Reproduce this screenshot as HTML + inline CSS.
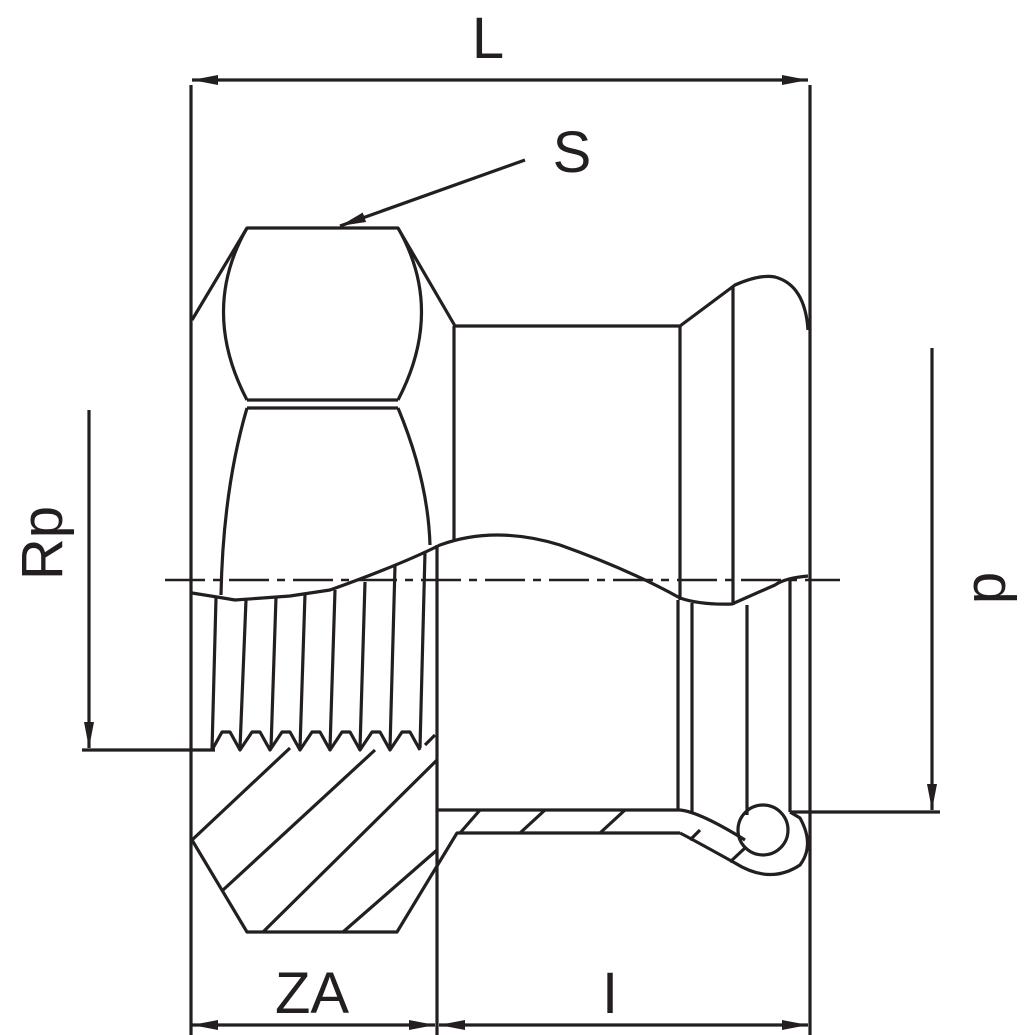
<!DOCTYPE html>
<html><head><style>html,body{margin:0;padding:0;background:#fff}svg{display:block}</style></head>
<body>
<svg width="1024" height="1035" viewBox="0 0 1024 1035" xmlns="http://www.w3.org/2000/svg">
<defs>
<marker id="a" viewBox="0 0 26 10" refX="26" refY="5" markerWidth="26" markerHeight="10" markerUnits="userSpaceOnUse" orient="auto-start-reverse"><path d="M0,0 L26,5 L0,10z" fill="#231f20"/></marker>
</defs>
<g fill="none" stroke="#231f20" stroke-width="3.2" stroke-linejoin="round">
<line x1="191" y1="85" x2="191" y2="1035"/>
<line x1="810" y1="85" x2="810" y2="1035"/>
<line x1="437" y1="545" x2="437" y2="1035"/>
<line x1="192" y1="80" x2="808" y2="80" marker-start="url(#a)" marker-end="url(#a)"/>
<line x1="192" y1="1025" x2="435" y2="1025" marker-start="url(#a)" marker-end="url(#a)"/>
<line x1="439" y1="1025" x2="808" y2="1025" marker-start="url(#a)" marker-end="url(#a)"/>
<line x1="525" y1="160" x2="340" y2="226" marker-end="url(#a)"/>
<line x1="89" y1="410" x2="89" y2="748" marker-end="url(#a)"/>
<line x1="82" y1="750" x2="215" y2="750"/>
<line x1="932" y1="348" x2="932" y2="810" marker-end="url(#a)"/>
<line x1="790" y1="812" x2="940" y2="812"/>
<line x1="165" y1="580" x2="840" y2="580" stroke-width="2.5" stroke-dasharray="40,8,8,8"/>
<path d="M192,320 L247,228 L398,228 L455,326"/>
<path d="M247,228 Q200,310 247,400 M398,228 Q445,310 398,400"/>
<line x1="247" y1="400" x2="398" y2="400"/>
<line x1="247" y1="408" x2="398" y2="408"/>
<path d="M247,408 Q223,490 221,595 M398,408 Q428,480 430,545"/>
<line x1="454" y1="326" x2="454" y2="540"/>
<path d="M454,326 L680,326 L735,285 Q760,274 775,277 Q805,285 808,330"/>
<line x1="680" y1="326" x2="680" y2="600"/>
<line x1="733" y1="287" x2="733" y2="605"/>
<path d="M192,593 L217,597 L235,600 L290,596 L330,590 Q400,565 440,545 Q495,525 560,545 Q630,570 680,598 Q700,605 732,604 L775,585 Q785,578 808,576"/>
<path d="M216,598 L212,750 M246,600 L240,748 M276,597 L271,748 M305,594 L300,748 M335,590 L330,748 M365,582 L360,748 M395,566 L390,748 M425,552 L420,748"/>
<path d="M212,750 L222,732 L230,732 L240,750 L252,732 L260,732 L270,750 L282,732 L290,732 L300,750 L312,732 L320,732 L330,750 L342,732 L350,732 L360,750 L372,732 L380,732 L390,750 L402,732 L410,732 L420,750"/>
<line x1="425" y1="745" x2="435" y2="735"/>
<path d="M192,840 L247,932 L397,932 L457,833 L680,833"/>
<path d="M192,840 L290,748 M223,890 L375,750 M263,932 L437,760 M343,932 L437,850"/>
<path d="M437,810 L680,810 Q700,812 745,840"/>
<path d="M680,833 Q690,838 735,863 Q770,885 800,865 Q815,845 800,818 L790,812"/>
<line x1="678" y1="600" x2="678" y2="810"/>
<line x1="692" y1="603" x2="692" y2="812"/>
<line x1="747" y1="605" x2="747" y2="815"/>
<line x1="790" y1="578" x2="790" y2="812"/>
<circle cx="763" cy="830" r="25"/>
<path d="M460,833 L480,810 M520,833 L545,810 M600,833 L625,810 M690,840 L700,830 M730,862 L745,848"/>
</g>
<g font-family="Liberation Sans, sans-serif" fill="#231f20" font-size="58">
<text x="488" y="58" text-anchor="middle">L</text>
<text x="572" y="172" text-anchor="middle">S</text>
<text x="312" y="1013" text-anchor="middle">ZA</text>
<text x="610" y="1013" text-anchor="middle">I</text>
<text transform="translate(62,543) rotate(-90)" text-anchor="middle">Rp</text>
<text transform="translate(1005,588) rotate(-90)" text-anchor="middle">p</text>
</g>
</svg>
</body></html>
